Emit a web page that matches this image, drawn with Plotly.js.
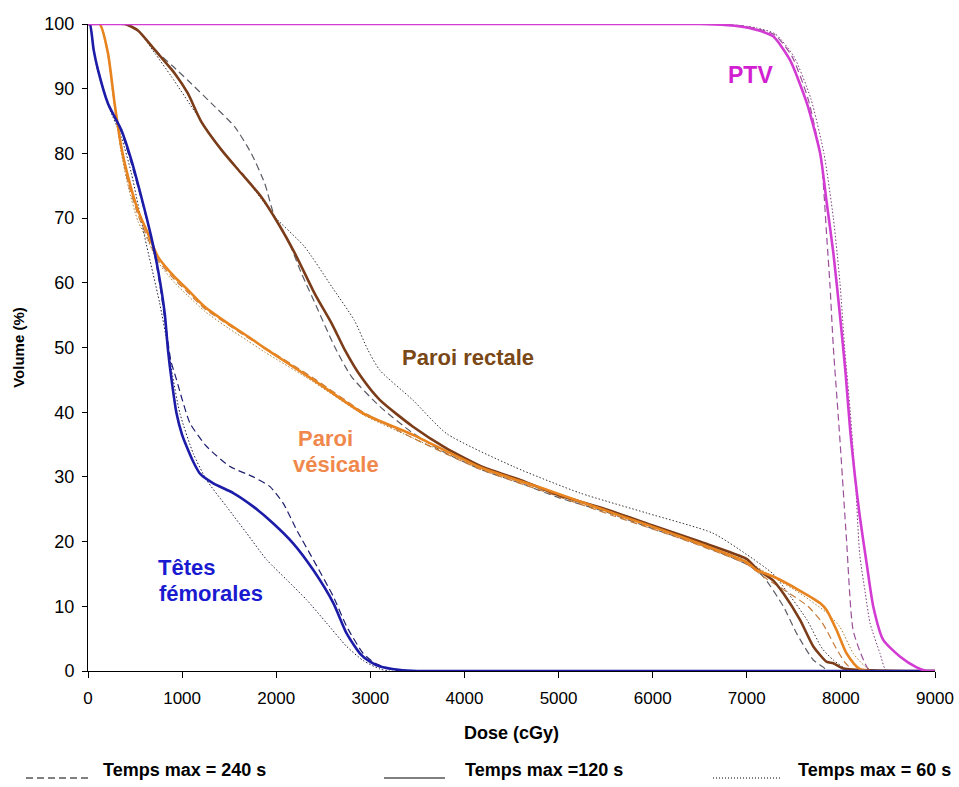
<!DOCTYPE html>
<html>
<head>
<meta charset="utf-8">
<script src="https://cdn.plot.ly/plotly-3.0.1.min.js"></script>
<style>
html,body{margin:0;padding:0;background:#fff;}
#chart{width:959px;height:787px;}
</style>
</head>
<body>
<div id="chart"></div>
<script>
// ---------- DATA (dose in cGy, volume in %) ----------
// PTV
const ptvDose240 = [0,6500,6900,7100,7300,7480,7650,7790,7850,7885,7920,7990,8060,8130,8240,8310,9000];
const ptvVol240  = [100,100,99.8,99.3,98.3,95,88.5,79,67,59.4,50,35.7,20.2,6.3,1.7,0,0];
const ptvDose120 = [0,6500,6800,6930,7100,7280,7460,7640,7780,7850,7920,7990,8050,8100,8150,8200,8275,8345,8450,8630,8800,8910,9000];
const ptvVol120  = [100,100,99.8,99.6,99.1,98.1,94.4,87.7,80,72.3,64.6,55,46,37,30,24,16.5,9.9,4.8,2.2,0.6,0,0];
const ptvDose60  = [0,6500,6900,7100,7300,7500,7680,7820,7920,7990,8040,8100,8160,8200,8260,8310,8416,8486,9000];
const ptvVol60   = [100,100,99.8,99.4,98.5,95,88.5,80,70,60,50,40,28,18,12,7.4,2.7,0,0];

// Paroi rectale
const recDose240 = [0,390,530,710,900,1060,1350,1560,1735,1877,1983,2125,2267,2444,2621,2800,3100,3450,3810,4200,4600,5000,5500,6000,6500,7000,7175,7388,7530,7707,7813,7860,9000];
const recVol240  = [100,100,99,96,93.5,91.3,87.2,84.1,80,75.4,70.2,66.6,61.5,55.8,50.1,45.5,40.9,36.8,33.6,31,29,26.8,24.6,22,19.5,16.5,14.6,10,5.8,1.7,0.6,0,0];
const recDose120 = [0,390,530,710,920,1060,1200,1420,1630,1840,2020,2200,2410,2590,2730,2900,3100,3450,3800,4200,4600,5000,5500,6000,6500,7000,7105,7280,7388,7566,7707,7850,7920,8026,9000];
const recVol120  = [100,100,99,96,92.4,89.3,85,80.5,76.9,73.3,69.2,64.5,58.3,53.7,49.6,45.5,41.9,37.8,34.5,31.5,29.5,27.2,25,22.5,20,17.3,15.8,14,12,7.9,3.8,1.4,1.2,0.4,0];
const recDose60  = [0,390,530,710,885,1170,1400,1630,1840,1983,2300,2590,2830,2975,3100,3450,3810,4520,5230,5940,6640,7000,7280,7420,7640,7800,7920,8100,9000];
const recVol60   = [100,100,99,95.5,91.9,85.7,81,77,73,70.2,65.6,59.4,54.2,49.6,46.5,41.9,36.7,31.6,27.5,24.4,21.3,18,15,12.4,7.9,3.5,1.7,0,0];

// Paroi vésicale
const vesDose240 = [0,124,212,283,354,425,531,637,744,920,1062,1240,1490,1700,1877,2394,2925,3453,4165,4873,5581,6291,7000,7175,7400,7650,7800,7950,8050,8150,9000];
const vesVol240  = [100,100,95.5,87.7,80.5,75.5,70.5,66.8,63.5,60.5,58.5,56,53.5,51.5,50,45.3,40,36,31.2,27.6,24,20.5,16.5,14.6,12.5,10,7.5,3.5,1.2,0,0];
const vesDose120 = [0,124,212,283,354,425,531,637,744,920,1062,1240,1490,1700,1877,2394,2925,3453,4165,4873,5581,6291,7000,7105,7282,7566,7778,7849,7955,8061,8203,9000];
const vesVol120  = [100,100,95.5,87.7,81,76.4,71.2,67.6,64,60.9,58.9,56.3,53.7,51.7,49.9,45,39.8,36.5,31.5,28,24.4,20.8,16.8,15.6,14.6,12.4,10.5,9.4,6.3,2.7,0.3,0];
const vesDose60  = [0,124,212,283,354,425,531,637,744,920,1062,1240,1490,1700,1877,2394,2925,3453,4165,4873,5581,6291,7000,7282,7566,7849,7990,8132,8250,8345,9000];
const vesVol60   = [100,100,95,87,80,75,69.5,66.5,63.2,60,58,55.6,53,51,49.3,44.7,39.6,36,31.4,27.8,24.2,20.8,17,14.5,12,9,6.8,2.7,0.8,0,0];

// Têtes fémorales
const femDose240 = [0,20,60,106,212,354,460,566,680,760,830,880,941,1000,1084,1261,1509,1757,1934,2075,2217,2394,2607,2748,2925,3050,3173,3300,9000];
const femVol240  = [100,100,96,92.9,87.7,83.3,78.5,73,66.5,60,53,48,45,42,38.3,34.7,31.6,30,28.5,25.9,21.8,17.2,11.5,6.9,2.7,1.2,0.5,0,0];
const femDose120 = [0,20,60,106,212,354,460,566,672,744,815,850,888,941,1000,1048,1120,1190,1332,1544,1757,1969,2182,2394,2607,2748,2890,3000,3103,3300,3500,9000];
const femVol120  = [100,100,96,92.9,87.7,83.6,79,73.3,67.1,62,55.3,49.6,45,39.8,36.5,34.7,32.3,30.5,29,27.5,25.4,22.8,19.7,15.6,10.5,5.8,2.7,1.4,0.7,0.2,0,0];
const femDose60  = [0,20,60,106,212,354,460,602,761,850,900,977,1119,1261,1473,1686,1898,2111,2323,2536,2748,2925,3103,3200,9000];
const femVol60   = [100,100,96,92.5,87.5,82.5,77,67.1,56.9,50,45.5,39.8,33.6,29.5,25.4,21.3,17.2,14.1,11,7.4,3.8,1.6,0.3,0,0];

// Labels
const xTicks = [0,1000,2000,3000,4000,5000,6000,7000,8000,9000];
const yTicks = [0,10,20,30,40,50,60,70,80,90,100];
const legendLabels = ['Temps max = 240 s','Temps max =120 s','Temps max = 60 s'];

// ---------- STYLES ----------
const C = {
  ptv:'#d23cd2', ptvDash:'#9a509a', ptvDot:'#7a3a7a',
  rec:'#7b3c19', recDash:'#5c5c66', recDot:'#3a3030',
  ves:'#e8841f', vesDash:'#c47a3a', vesDot:'#b07a30',
  fem:'#1c1ca8', femDash:'#1e1e70', femDot:'#202040'
};
const DASH = '7px,4px';
const DOT = '1.5px,2px';

function tr(x,y,color,width,dash){
  return {x:x,y:y,type:'scatter',mode:'lines',hoverinfo:'skip',showlegend:false,
    line:{color:color,width:width,dash:dash,shape:'spline',smoothing:0.6}};
}

const traces = [
  tr(ptvDose240,ptvVol240,C.ptvDash,1.2,DASH),
  tr(ptvDose60,ptvVol60,C.ptvDot,1,DOT),
  tr(recDose240,recVol240,C.recDash,1.2,DASH),
  tr(recDose60,recVol60,C.recDot,1,DOT),
  tr(vesDose240,vesVol240,C.vesDash,1.2,DASH),
  tr(vesDose60,vesVol60,C.vesDot,1,DOT),
  tr(femDose240,femVol240,C.femDash,1.2,DASH),
  tr(femDose60,femVol60,C.femDot,1,DOT),
  tr(recDose120,recVol120,C.rec,2.6,'solid'),
  tr(vesDose120,vesVol120,C.ves,2.6,'solid'),
  tr(femDose120,femVol120,C.fem,2.6,'solid'),
  tr(ptvDose120,ptvVol120,C.ptv,2.6,'solid')
];

const L = 88, R = 24, T = 24, B = 116, W = 959, H = 787;
const pw = W - L - R, ph = H - T - B;
function px2x(p){ return (p - L) / pw; }
function py2y(p){ return (H - B - p) / ph; }

const sans = '"Liberation Sans",Arial,sans-serif';

const lineY = 778;
const shapes = [
  {type:'line',xref:'paper',yref:'paper',x0:px2x(26),x1:px2x(92),y0:py2y(lineY),y1:py2y(lineY),line:{color:'#000',width:1,dash:'7px,4px'}},
  {type:'line',xref:'paper',yref:'paper',x0:px2x(384),x1:px2x(445),y0:py2y(lineY),y1:py2y(lineY),line:{color:'#000',width:1}},
  {type:'line',xref:'paper',yref:'paper',x0:px2x(713),x1:px2x(780),y0:py2y(lineY),y1:py2y(lineY),line:{color:'#000',width:1,dash:'1px,2px'}}
];

const legFont = {family:sans,size:18,color:'#000',weight:'bold'};
const lblFont = (c,s)=>({family:sans,size:s||22,color:c,weight:'bold'});
const textY = 770;

function ann(px,py,text,font,xa){
  return {xref:'paper',yref:'paper',x:px2x(px),y:py2y(py),xanchor:xa||'center',yanchor:'middle',
    text:'<b>'+text+'</b>',showarrow:false,font:font};
}

const annotations = [
  ann(101,textY,legendLabels[0],legFont,'left'),
  ann(463,textY,legendLabels[1],legFont,'left'),
  ann(796,textY,legendLabels[2],legFont,'left'),
  ann(750,75,'PTV',lblFont('#d21fd2',23)),
  ann(468,358,'Paroi rectale',lblFont('#7a4716')),
  ann(296,438,'Paroi',lblFont('#f0884c'),'left'),
  ann(291,464,'vésicale',lblFont('#f0884c'),'left'),
  ann(156,567,'Têtes',lblFont('#1a1ad0'),'left'),
  ann(157,593,'fémorales',lblFont('#1a1ad0'),'left')
];

const layout = {
  width:W, height:H,
  margin:{l:L,r:R,t:T,b:B,pad:0},
  paper_bgcolor:'#fff', plot_bgcolor:'#fff',
  showlegend:false,
  xaxis:{range:[0,9000],tickvals:xTicks,ticktext:xTicks.map(String),showgrid:false,zeroline:false,
    showline:true,linecolor:'#000',linewidth:1,ticks:'outside',ticklen:6,tickcolor:'#000',
    ticklabelstandoff:6,
    tickfont:{family:sans,size:17,color:'#000'},
    title:{text:'<b>Dose (cGy)</b>',font:{family:sans,size:18,color:'#000'},standoff:18}},
  yaxis:{range:[0,100],tickvals:yTicks,ticktext:yTicks.map(String),showgrid:false,zeroline:false,
    showline:true,linecolor:'#000',linewidth:1,ticks:'outside',ticklen:5,tickcolor:'#000',
    ticklabelstandoff:4,
    tickfont:{family:sans,size:18,color:'#000'},
    title:{text:'<b>Volume (%)</b>',font:{family:sans,size:15,color:'#000'},standoff:16}},
  shapes:shapes,
  annotations:annotations
};

Plotly.newPlot('chart',traces,layout,{displayModeBar:false,staticPlot:true});
</script>
</body>
</html>
